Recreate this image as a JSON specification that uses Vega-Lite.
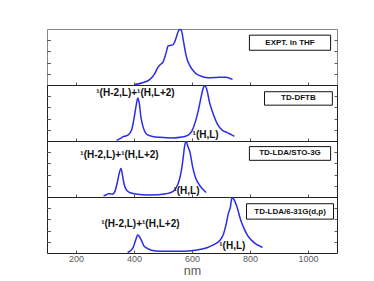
{
  "$schema": "https://vega.github.io/schema/vega-lite/v6.json",
  "padding": {"left": 46, "top": 26, "right": 30, "bottom": 0},
  "spacing": 0,
  "bounds": "flush",
  "config": {
    "view": {"stroke": "#222", "strokeWidth": 1},
    "font": "Liberation Sans",
    "axisY": {"labels": false, "title": null, "grid": false, "tickSize": 3, "offset": -3, "tickColor": "#555", "domain": false},
    "axisX": {"grid": false, "tickSize": 3, "offset": -3, "tickColor": "#555", "domain": false}
  },
  "datasets": {
    "spectra": [
      {"panel":"EXPT","nm":403,"value":0.01},{"panel":"EXPT","nm":430,"value":0.04},{"panel":"EXPT","nm":455,"value":0.10},{"panel":"EXPT","nm":470,"value":0.19},{"panel":"EXPT","nm":482,"value":0.31},{"panel":"EXPT","nm":492,"value":0.37},{"panel":"EXPT","nm":500,"value":0.41},{"panel":"EXPT","nm":510,"value":0.56},{"panel":"EXPT","nm":518,"value":0.70},{"panel":"EXPT","nm":528,"value":0.71},{"panel":"EXPT","nm":535,"value":0.72},{"panel":"EXPT","nm":544,"value":0.82},{"panel":"EXPT","nm":552,"value":0.95},{"panel":"EXPT","nm":558,"value":0.99},{"panel":"EXPT","nm":563,"value":0.98},{"panel":"EXPT","nm":570,"value":0.80},{"panel":"EXPT","nm":575,"value":0.65},{"panel":"EXPT","nm":583,"value":0.46},{"panel":"EXPT","nm":592,"value":0.35},{"panel":"EXPT","nm":605,"value":0.25},{"panel":"EXPT","nm":615,"value":0.20},{"panel":"EXPT","nm":630,"value":0.16},{"panel":"EXPT","nm":643,"value":0.14},{"panel":"EXPT","nm":665,"value":0.13},{"panel":"EXPT","nm":684,"value":0.135},{"panel":"EXPT","nm":705,"value":0.14},{"panel":"EXPT","nm":718,"value":0.14},{"panel":"EXPT","nm":730,"value":0.12},{"panel":"EXPT","nm":740,"value":0.10},
      {"panel":"DFTB","nm":340,"value":0.01},{"panel":"DFTB","nm":355,"value":0.05},{"panel":"DFTB","nm":363,"value":0.08},{"panel":"DFTB","nm":372,"value":0.09},{"panel":"DFTB","nm":380,"value":0.11},{"panel":"DFTB","nm":392,"value":0.20},{"panel":"DFTB","nm":400,"value":0.40},{"panel":"DFTB","nm":408,"value":0.65},{"panel":"DFTB","nm":413,"value":0.77},{"panel":"DFTB","nm":418,"value":0.68},{"panel":"DFTB","nm":424,"value":0.42},{"panel":"DFTB","nm":430,"value":0.28},{"panel":"DFTB","nm":437,"value":0.17},{"panel":"DFTB","nm":447,"value":0.11},{"panel":"DFTB","nm":465,"value":0.08},{"panel":"DFTB","nm":490,"value":0.065},{"panel":"DFTB","nm":535,"value":0.055},{"panel":"DFTB","nm":565,"value":0.07},{"panel":"DFTB","nm":585,"value":0.10},{"panel":"DFTB","nm":600,"value":0.18},{"panel":"DFTB","nm":612,"value":0.35},{"panel":"DFTB","nm":622,"value":0.55},{"panel":"DFTB","nm":632,"value":0.80},{"panel":"DFTB","nm":640,"value":0.96},{"panel":"DFTB","nm":645,"value":0.98},{"panel":"DFTB","nm":652,"value":0.90},{"panel":"DFTB","nm":660,"value":0.70},{"panel":"DFTB","nm":672,"value":0.50},{"panel":"DFTB","nm":689,"value":0.29},{"panel":"DFTB","nm":705,"value":0.19},{"panel":"DFTB","nm":720,"value":0.155},{"panel":"DFTB","nm":735,"value":0.115},{"panel":"DFTB","nm":746,"value":0.085},
      {"panel":"STO","nm":295,"value":0.02},{"panel":"STO","nm":305,"value":0.04},{"panel":"STO","nm":312,"value":0.06},{"panel":"STO","nm":318,"value":0.06},{"panel":"STO","nm":325,"value":0.05},{"panel":"STO","nm":335,"value":0.11},{"panel":"STO","nm":342,"value":0.25},{"panel":"STO","nm":348,"value":0.40},{"panel":"STO","nm":355,"value":0.51},{"panel":"STO","nm":360,"value":0.40},{"panel":"STO","nm":365,"value":0.25},{"panel":"STO","nm":372,"value":0.14},{"panel":"STO","nm":385,"value":0.08},{"panel":"STO","nm":400,"value":0.06},{"panel":"STO","nm":455,"value":0.035},{"panel":"STO","nm":512,"value":0.06},{"panel":"STO","nm":535,"value":0.10},{"panel":"STO","nm":546,"value":0.17},{"panel":"STO","nm":556,"value":0.30},{"panel":"STO","nm":563,"value":0.46},{"panel":"STO","nm":570,"value":0.72},{"panel":"STO","nm":575,"value":0.92},{"panel":"STO","nm":580,"value":0.99},{"panel":"STO","nm":586,"value":0.90},{"panel":"STO","nm":592,"value":0.82},{"panel":"STO","nm":603,"value":0.52},{"panel":"STO","nm":612,"value":0.35},{"panel":"STO","nm":620,"value":0.26},{"panel":"STO","nm":635,"value":0.15},{"panel":"STO","nm":649,"value":0.08},
      {"panel":"G631","nm":378,"value":0.01},{"panel":"G631","nm":390,"value":0.05},{"panel":"G631","nm":398,"value":0.11},{"panel":"G631","nm":405,"value":0.22},{"panel":"G631","nm":413,"value":0.32},{"panel":"G631","nm":420,"value":0.28},{"panel":"G631","nm":426,"value":0.22},{"panel":"G631","nm":435,"value":0.12},{"panel":"G631","nm":443,"value":0.09},{"panel":"G631","nm":460,"value":0.05},{"panel":"G631","nm":489,"value":0.03},{"panel":"G631","nm":530,"value":0.03},{"panel":"G631","nm":569,"value":0.03},{"panel":"G631","nm":610,"value":0.05},{"panel":"G631","nm":649,"value":0.09},{"panel":"G631","nm":675,"value":0.15},{"panel":"G631","nm":695,"value":0.22},{"panel":"G631","nm":708,"value":0.33},{"panel":"G631","nm":718,"value":0.52},{"panel":"G631","nm":726,"value":0.72},{"panel":"G631","nm":732,"value":0.81},{"panel":"G631","nm":738,"value":0.99},{"panel":"G631","nm":744,"value":0.96},{"panel":"G631","nm":754,"value":0.84},{"panel":"G631","nm":769,"value":0.57},{"panel":"G631","nm":780,"value":0.43},{"panel":"G631","nm":792,"value":0.31},{"panel":"G631","nm":805,"value":0.23},{"panel":"G631","nm":821,"value":0.16},{"panel":"G631","nm":835,"value":0.12},{"panel":"G631","nm":843,"value":0.10}
    ],
    "labels": [
      {"panel":"DFTB","nm":405,"value":0.86,"label":"¹(H-2,L)+¹(H,L+2)"},
      {"panel":"DFTB","nm":647,"value":0.10,"label":"¹(H,L)"},
      {"panel":"STO","nm":350,"value":0.75,"label":"¹(H-2,L)+¹(H,L+2)"},
      {"panel":"STO","nm":581,"value":0.11,"label":"¹(H,L)"},
      {"panel":"G631","nm":422,"value":0.52,"label":"¹(H-2,L)+¹(H,L+2)"},
      {"panel":"G631","nm":739,"value":0.13,"label":"¹(H,L)"}
    ],
    "boxes": [
      {"panel":"EXPT","x1":798,"x2":1078,"y1":0.62,"y2":0.89,"cx":938,"cy":0.755,"label":"EXPT.  in THF"},
      {"panel":"DFTB","x1":850,"x2":1084,"y1":0.64,"y2":0.88,"cx":967,"cy":0.76,"label":"TD-DFTB"},
      {"panel":"STO","x1":798,"x2":1078,"y1":0.655,"y2":0.90,"cx":938,"cy":0.78,"label":"TD-LDA/STO-3G"},
      {"panel":"G631","x1":788,"x2":1088,"y1":0.605,"y2":0.88,"cx":938,"cy":0.74,"label":"TD-LDA/6-31G(d,p)"}
    ]
  },
  "vconcat": [
    {
      "width": 290, "height": 56,
      "view": {"stroke": "#888"},
      "layer": [
        {"data": {"name": "spectra"}, "transform": [{"filter": "datum.panel === 'EXPT'"}],
         "mark": {"type": "line", "color": "#2b2bea", "strokeWidth": 1.5, "interpolate": "monotone"},
         "encoding": {
           "x": {"field": "nm", "type": "quantitative", "scale": {"domain": [100, 1100]}, "axis": {"values": [200,400,600,800,1000], "labels": false, "title": null}},
           "y": {"field": "value", "type": "quantitative", "scale": {"domain": [0, 1]}, "axis": {"orient": "left", "values": [0.2,0.4,0.6,0.8]}}
         }},
        {"data": {"name": "spectra"}, "transform": [{"filter": "datum.panel === 'EXPT'"}],
         "mark": {"type": "line", "strokeOpacity": 0},
         "encoding": {
           "x": {"field": "nm", "type": "quantitative"},
           "y": {"field": "value", "type": "quantitative", "axis": {"orient": "right", "values": [0.2,0.4,0.6,0.8]}}
         }},
        {"data": {"name": "boxes"}, "transform": [{"filter": "datum.panel === 'EXPT'"}],
         "mark": {"type": "rect", "fill": "white", "stroke": "#111", "strokeWidth": 1},
         "encoding": {
           "x": {"field": "x1", "type": "quantitative"}, "x2": {"field": "x2"},
           "y": {"field": "y1", "type": "quantitative", "axis": {"orient": "left", "values": [0.2,0.4,0.6,0.8]}}, "y2": {"field": "y2"}
         }},
        {"data": {"name": "boxes"}, "transform": [{"filter": "datum.panel === 'EXPT'"}],
         "mark": {"type": "text", "fontSize": 8, "fontWeight": "bold", "color": "#111", "baseline": "middle", "align": "center"},
         "encoding": {
           "x": {"field": "cx", "type": "quantitative"},
           "y": {"field": "cy", "type": "quantitative", "axis": {"orient": "left", "values": [0.2,0.4,0.6,0.8]}},
           "text": {"field": "label"}
         }}
      ],
      "resolve": {"axis": {"y": "independent"}}
    },
    {
      "width": 290, "height": 56,
      "layer": [
        {"data": {"name": "spectra"}, "transform": [{"filter": "datum.panel === 'DFTB'"}],
         "mark": {"type": "line", "color": "#2b2bea", "strokeWidth": 1.5, "interpolate": "monotone"},
         "encoding": {
           "x": {"field": "nm", "type": "quantitative", "scale": {"domain": [100, 1100]}, "axis": {"values": [200,400,600,800,1000], "labels": false, "title": null}},
           "y": {"field": "value", "type": "quantitative", "scale": {"domain": [0, 1]}, "axis": {"orient": "left", "values": [0.2,0.4,0.6,0.8]}}
         }},
        {"data": {"name": "spectra"}, "transform": [{"filter": "datum.panel === 'DFTB'"}],
         "mark": {"type": "line", "strokeOpacity": 0},
         "encoding": {
           "x": {"field": "nm", "type": "quantitative"},
           "y": {"field": "value", "type": "quantitative", "axis": {"orient": "right", "values": [0.2,0.4,0.6,0.8]}}
         }},
        {"data": {"name": "labels"}, "transform": [{"filter": "datum.panel === 'DFTB'"}],
         "mark": {"type": "text", "fontSize": 10, "fontWeight": "bold", "color": "#111", "baseline": "middle", "align": "center"},
         "encoding": {
           "x": {"field": "nm", "type": "quantitative"},
           "y": {"field": "value", "type": "quantitative", "axis": {"orient": "left", "values": [0.2,0.4,0.6,0.8]}},
           "text": {"field": "label"}
         }},
        {"data": {"name": "boxes"}, "transform": [{"filter": "datum.panel === 'DFTB'"}],
         "mark": {"type": "rect", "fill": "white", "stroke": "#111", "strokeWidth": 1},
         "encoding": {
           "x": {"field": "x1", "type": "quantitative"}, "x2": {"field": "x2"},
           "y": {"field": "y1", "type": "quantitative", "axis": {"orient": "left", "values": [0.2,0.4,0.6,0.8]}}, "y2": {"field": "y2"}
         }},
        {"data": {"name": "boxes"}, "transform": [{"filter": "datum.panel === 'DFTB'"}],
         "mark": {"type": "text", "fontSize": 8, "fontWeight": "bold", "color": "#111", "baseline": "middle", "align": "center"},
         "encoding": {
           "x": {"field": "cx", "type": "quantitative"},
           "y": {"field": "cy", "type": "quantitative", "axis": {"orient": "left", "values": [0.2,0.4,0.6,0.8]}},
           "text": {"field": "label"}
         }}
      ],
      "resolve": {"axis": {"y": "independent"}}
    },
    {
      "width": 290, "height": 56,
      "layer": [
        {"data": {"name": "spectra"}, "transform": [{"filter": "datum.panel === 'STO'"}],
         "mark": {"type": "line", "color": "#2b2bea", "strokeWidth": 1.5, "interpolate": "monotone"},
         "encoding": {
           "x": {"field": "nm", "type": "quantitative", "scale": {"domain": [100, 1100]}, "axis": {"values": [200,400,600,800,1000], "labels": false, "title": null}},
           "y": {"field": "value", "type": "quantitative", "scale": {"domain": [0, 1]}, "axis": {"orient": "left", "values": [0.2,0.4,0.6,0.8]}}
         }},
        {"data": {"name": "spectra"}, "transform": [{"filter": "datum.panel === 'STO'"}],
         "mark": {"type": "line", "strokeOpacity": 0},
         "encoding": {
           "x": {"field": "nm", "type": "quantitative"},
           "y": {"field": "value", "type": "quantitative", "axis": {"orient": "right", "values": [0.2,0.4,0.6,0.8]}}
         }},
        {"data": {"name": "labels"}, "transform": [{"filter": "datum.panel === 'STO'"}],
         "mark": {"type": "text", "fontSize": 10, "fontWeight": "bold", "color": "#111", "baseline": "middle", "align": "center"},
         "encoding": {
           "x": {"field": "nm", "type": "quantitative"},
           "y": {"field": "value", "type": "quantitative", "axis": {"orient": "left", "values": [0.2,0.4,0.6,0.8]}},
           "text": {"field": "label"}
         }},
        {"data": {"name": "boxes"}, "transform": [{"filter": "datum.panel === 'STO'"}],
         "mark": {"type": "rect", "fill": "white", "stroke": "#111", "strokeWidth": 1},
         "encoding": {
           "x": {"field": "x1", "type": "quantitative"}, "x2": {"field": "x2"},
           "y": {"field": "y1", "type": "quantitative", "axis": {"orient": "left", "values": [0.2,0.4,0.6,0.8]}}, "y2": {"field": "y2"}
         }},
        {"data": {"name": "boxes"}, "transform": [{"filter": "datum.panel === 'STO'"}],
         "mark": {"type": "text", "fontSize": 8, "fontWeight": "bold", "color": "#111", "baseline": "middle", "align": "center"},
         "encoding": {
           "x": {"field": "cx", "type": "quantitative"},
           "y": {"field": "cy", "type": "quantitative", "axis": {"orient": "left", "values": [0.2,0.4,0.6,0.8]}},
           "text": {"field": "label"}
         }}
      ],
      "resolve": {"axis": {"y": "independent"}}
    },
    {
      "width": 290, "height": 56,
      "layer": [
        {"data": {"name": "spectra"}, "transform": [{"filter": "datum.panel === 'G631'"}],
         "mark": {"type": "line", "color": "#2b2bea", "strokeWidth": 1.5, "interpolate": "monotone"},
         "encoding": {
           "x": {"field": "nm", "type": "quantitative", "scale": {"domain": [100, 1100]}, "axis": {"values": [200,400,600,800,1000], "format": "d", "title": "nm", "titleFontSize": 12.5, "titleFontWeight": "normal", "titleColor": "#595959", "titlePadding": 1, "labelFontSize": 9, "labelColor": "#595959", "labelPadding": 1}},
           "y": {"field": "value", "type": "quantitative", "scale": {"domain": [0, 1]}, "axis": {"orient": "left", "values": [0.2,0.4,0.6,0.8]}}
         }},
        {"data": {"name": "spectra"}, "transform": [{"filter": "datum.panel === 'G631'"}],
         "mark": {"type": "line", "strokeOpacity": 0},
         "encoding": {
           "x": {"field": "nm", "type": "quantitative"},
           "y": {"field": "value", "type": "quantitative", "axis": {"orient": "right", "values": [0.2,0.4,0.6,0.8]}}
         }},
        {"data": {"name": "labels"}, "transform": [{"filter": "datum.panel === 'G631'"}],
         "mark": {"type": "text", "fontSize": 10, "fontWeight": "bold", "color": "#111", "baseline": "middle", "align": "center"},
         "encoding": {
           "x": {"field": "nm", "type": "quantitative"},
           "y": {"field": "value", "type": "quantitative", "axis": {"orient": "left", "values": [0.2,0.4,0.6,0.8]}},
           "text": {"field": "label"}
         }},
        {"data": {"name": "boxes"}, "transform": [{"filter": "datum.panel === 'G631'"}],
         "mark": {"type": "rect", "fill": "white", "stroke": "#111", "strokeWidth": 1},
         "encoding": {
           "x": {"field": "x1", "type": "quantitative"}, "x2": {"field": "x2"},
           "y": {"field": "y1", "type": "quantitative", "axis": {"orient": "left", "values": [0.2,0.4,0.6,0.8]}}, "y2": {"field": "y2"}
         }},
        {"data": {"name": "boxes"}, "transform": [{"filter": "datum.panel === 'G631'"}],
         "mark": {"type": "text", "fontSize": 8, "fontWeight": "bold", "color": "#111", "baseline": "middle", "align": "center"},
         "encoding": {
           "x": {"field": "cx", "type": "quantitative"},
           "y": {"field": "cy", "type": "quantitative", "axis": {"orient": "left", "values": [0.2,0.4,0.6,0.8]}},
           "text": {"field": "label"}
         }}
      ],
      "resolve": {"axis": {"y": "independent"}}
    }
  ]
}
